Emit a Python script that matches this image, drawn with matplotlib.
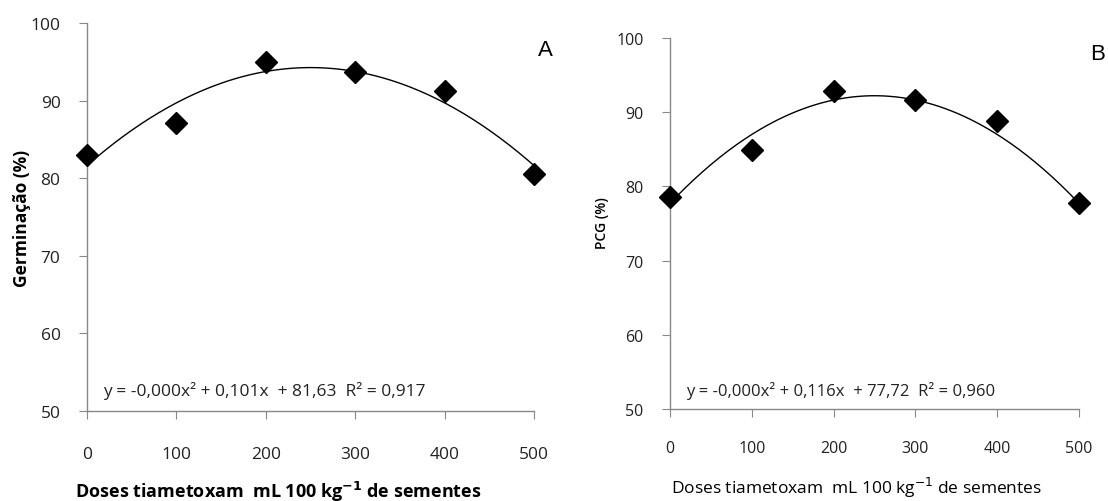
import numpy as np
import matplotlib
matplotlib.use('Agg')
import matplotlib.pyplot as plt

# dados
doses = [0, 100, 200, 300, 400, 500]
germinacao = [83.0, 87.1, 95.0, 93.7, 91.3, 80.5]
pcg = [78.6, 84.9, 92.8, 91.7, 88.8, 77.7]

# coeficientes da regressao (a estimado, b e c do texto)
coef_a = [-0.000202, 0.101, 81.63]
coef_b = [-0.000232, 0.116, 77.72]

eq_a = 'y = -0,000x² + 0,101x  + 81,63  R² = 0,917'
eq_b = 'y = -0,000x² + 0,116x  + 77,72  R² = 0,960'
xticks = [0, 100, 200, 300, 400, 500]
yticks = [50, 60, 70, 80, 90, 100]

plt.rcParams['font.family'] = ['Open Sans', 'DejaVu Sans']

fig = plt.figure(figsize=(11.08, 5.02), dpi=100)
W, H = 1108, 502

def painel(box, y, coef, eq, tsize, esize, ey, xpad, ypad):
    x0, y0, x1, y1 = box
    ax = fig.add_axes([x0 / W, 1 - y1 / H, (x1 - x0) / W, (y1 - y0) / H])
    xs = np.linspace(0, 500, 200)
    ax.plot(xs, np.polyval(coef, xs), color='black', lw=1.0, clip_on=False)
    ax.plot(doses, y, 'D', color='black', ms=11, clip_on=False, zorder=5)
    ax.set_xlim(0, 500)
    ax.set_ylim(50, 100)
    ax.set_xticks(xticks)
    ax.set_yticks(yticks)
    for s in ['top', 'right']:
        ax.spines[s].set_visible(False)
    for s in ['left', 'bottom']:
        ax.spines[s].set_color('#888888')
        ax.spines[s].set_linewidth(1.0)
    ax.tick_params(axis='x', direction='out', length=6, color='#888888',
                   labelsize=tsize, pad=xpad, labelcolor='#222222')
    ax.tick_params(axis='y', direction='out', length=6, color='#888888',
                   labelsize=tsize, pad=ypad, labelcolor='#222222')
    fig.text((x0 + 16) / W, 1 - ey / H, eq, fontsize=esize,
             color='#222222', ha='left', va='center')
    return ax

axA = painel((87, 24, 534, 412), germinacao, coef_a, eq_a, 12.5, 12.5, 391, 19, 13)
axB = painel((670, 39, 1079, 410), pcg, coef_b, eq_b, 11.5, 12, 391, 16, 13)

fig.text(22 / W, 1 - 218 / H, 'Germinação (%)', rotation=90, ha='center', va='center',
         fontsize=12.5, fontweight='bold')
fig.text(602 / W, 1 - 223 / H, 'PCG (%)', rotation=90, ha='center', va='center',
         fontsize=10, fontweight='semibold')
fig.text(278 / W, 1 - 492 / H, 'Doses tiametoxam  mL 100 kg$^{\\mathbf{-1}}$ de sementes',
         ha='center', va='center', fontsize=13, fontweight='bold')
fig.text(857 / W, 1 - 488 / H, 'Doses tiametoxam  mL 100 kg$^{-1}$ de sementes',
         ha='center', va='center', fontsize=12.5)
fig.text(545 / W, 1 - 50 / H, 'A', ha='center', va='center', fontsize=16,
         family='Liberation Sans')
fig.text(1098 / W, 1 - 55 / H, 'B', ha='center', va='center', fontsize=16,
         family='Liberation Sans')

fig.savefig('out.png', dpi=100)
